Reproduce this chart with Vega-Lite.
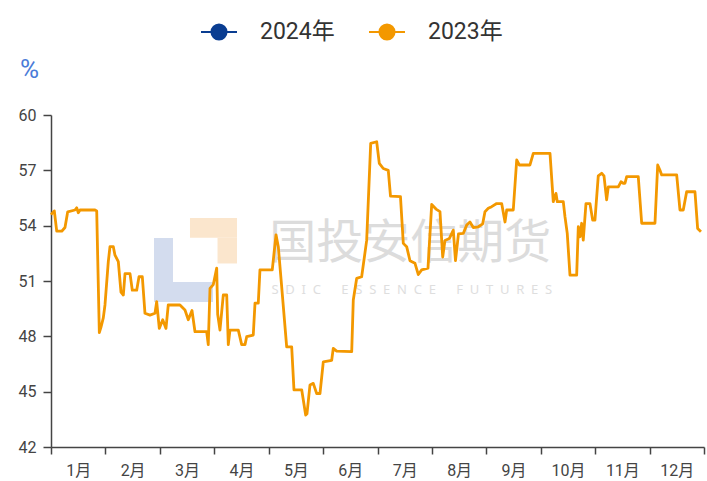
{
  "$schema": "https://vega.github.io/schema/vega-lite/v6.json",
  "width": 653,
  "height": 332,
  "autosize": {"type": "none"},
  "padding": {"left": 51, "top": 115, "right": 3, "bottom": 34},
  "background": "white",
  "config": {
    "view": {"stroke": null},
    "font": "Roboto, Noto Sans CJK SC, sans-serif",
    "axis": {
      "labelFontSize": 16,
      "labelColor": "#444",
      "tickColor": "#444",
      "domainColor": "#444",
      "tickWidth": 1.5,
      "domainWidth": 1.5,
      "grid": false
    }
  },
  "datasets": {
    "line": [
      {"series":"2023年","t":0,"v":54.6},
      {"series":"2023年","t":0.061,"v":54.8},
      {"series":"2023年","t":0.105,"v":53.7},
      {"series":"2023年","t":0.197,"v":53.7},
      {"series":"2023年","t":0.257,"v":53.9},
      {"series":"2023年","t":0.307,"v":54.75},
      {"series":"2023年","t":0.441,"v":54.85},
      {"series":"2023年","t":0.472,"v":54.97},
      {"series":"2023年","t":0.502,"v":54.7},
      {"series":"2023年","t":0.533,"v":54.85},
      {"series":"2023年","t":0.809,"v":54.85},
      {"series":"2023年","t":0.840,"v":54.8},
      {"series":"2023年","t":0.888,"v":48.2},
      {"series":"2023年","t":0.919,"v":48.5},
      {"series":"2023年","t":0.961,"v":49.0},
      {"series":"2023年","t":0.992,"v":49.7},
      {"series":"2023年","t":1.053,"v":52.05},
      {"series":"2023年","t":1.084,"v":52.86},
      {"series":"2023年","t":1.145,"v":52.86},
      {"series":"2023年","t":1.176,"v":52.4},
      {"series":"2023年","t":1.237,"v":52.05},
      {"series":"2023年","t":1.286,"v":50.4},
      {"series":"2023年","t":1.329,"v":50.24},
      {"series":"2023年","t":1.360,"v":51.4},
      {"series":"2023年","t":1.452,"v":51.4},
      {"series":"2023年","t":1.494,"v":50.5},
      {"series":"2023年","t":1.575,"v":50.5},
      {"series":"2023年","t":1.617,"v":51.23},
      {"series":"2023年","t":1.678,"v":51.23},
      {"series":"2023年","t":1.727,"v":49.25},
      {"series":"2023年","t":1.819,"v":49.15},
      {"series":"2023年","t":1.911,"v":49.25},
      {"series":"2023年","t":1.942,"v":49.88},
      {"series":"2023年","t":1.990,"v":48.43},
      {"series":"2023年","t":2.053,"v":48.9},
      {"series":"2023年","t":2.113,"v":48.43},
      {"series":"2023年","t":2.155,"v":49.7},
      {"series":"2023年","t":2.370,"v":49.7},
      {"series":"2023年","t":2.462,"v":49.43},
      {"series":"2023年","t":2.523,"v":48.9},
      {"series":"2023年","t":2.591,"v":49.4},
      {"series":"2023年","t":2.646,"v":48.25},
      {"series":"2023年","t":2.861,"v":48.25},
      {"series":"2023年","t":2.890,"v":47.55},
      {"series":"2023年","t":2.922,"v":50.6},
      {"series":"2023年","t":2.982,"v":50.8},
      {"series":"2023年","t":3.045,"v":51.7},
      {"series":"2023年","t":3.063,"v":49.2},
      {"series":"2023年","t":3.105,"v":48.34},
      {"series":"2023年","t":3.166,"v":50.24},
      {"series":"2023年","t":3.229,"v":50.24},
      {"series":"2023年","t":3.258,"v":47.55},
      {"series":"2023年","t":3.289,"v":48.34},
      {"series":"2023年","t":3.442,"v":48.34},
      {"series":"2023年","t":3.504,"v":47.55},
      {"series":"2023年","t":3.565,"v":47.55},
      {"series":"2023年","t":3.596,"v":47.98},
      {"series":"2023年","t":3.717,"v":48.07},
      {"series":"2023年","t":3.749,"v":49.8},
      {"series":"2023年","t":3.809,"v":49.8},
      {"series":"2023年","t":3.840,"v":51.6},
      {"series":"2023年","t":4.066,"v":51.6},
      {"series":"2023年","t":4.135,"v":53.5},
      {"series":"2023年","t":4.177,"v":52.86},
      {"series":"2023年","t":4.239,"v":50.69},
      {"series":"2023年","t":4.331,"v":47.43},
      {"series":"2023年","t":4.423,"v":47.43},
      {"series":"2023年","t":4.465,"v":45.1},
      {"series":"2023年","t":4.607,"v":45.1},
      {"series":"2023年","t":4.680,"v":43.73},
      {"series":"2023年","t":4.704,"v":43.8},
      {"series":"2023年","t":4.759,"v":45.36},
      {"series":"2023年","t":4.820,"v":45.45},
      {"series":"2023年","t":4.882,"v":44.9},
      {"series":"2023年","t":4.943,"v":44.9},
      {"series":"2023年","t":5.004,"v":46.62},
      {"series":"2023年","t":5.158,"v":46.7},
      {"series":"2023年","t":5.187,"v":47.35},
      {"series":"2023年","t":5.250,"v":47.2},
      {"series":"2023年","t":5.526,"v":47.17},
      {"series":"2023年","t":5.555,"v":49.97},
      {"series":"2023年","t":5.617,"v":51.14},
      {"series":"2023年","t":5.709,"v":51.23},
      {"series":"2023年","t":5.801,"v":53.2},
      {"series":"2023年","t":5.875,"v":58.46},
      {"series":"2023年","t":5.985,"v":58.55},
      {"series":"2023年","t":6.033,"v":57.38},
      {"series":"2023年","t":6.106,"v":57.1},
      {"series":"2023年","t":6.198,"v":57.0},
      {"series":"2023年","t":6.239,"v":55.6},
      {"series":"2023年","t":6.422,"v":55.57},
      {"series":"2023年","t":6.474,"v":53.04},
      {"series":"2023年","t":6.536,"v":52.86},
      {"series":"2023年","t":6.597,"v":52.1},
      {"series":"2023年","t":6.689,"v":51.96},
      {"series":"2023年","t":6.750,"v":51.35},
      {"series":"2023年","t":6.812,"v":51.6},
      {"series":"2023年","t":6.928,"v":51.7},
      {"series":"2023年","t":6.996,"v":55.15},
      {"series":"2023年","t":7.075,"v":54.9},
      {"series":"2023年","t":7.148,"v":54.76},
      {"series":"2023年","t":7.198,"v":52.3},
      {"series":"2023年","t":7.240,"v":53.2},
      {"series":"2023年","t":7.319,"v":53.3},
      {"series":"2023年","t":7.393,"v":53.76},
      {"series":"2023年","t":7.433,"v":52.1},
      {"series":"2023年","t":7.488,"v":53.55},
      {"series":"2023年","t":7.576,"v":53.58},
      {"series":"2023年","t":7.639,"v":54.03},
      {"series":"2023年","t":7.699,"v":54.2},
      {"series":"2023年","t":7.760,"v":53.9},
      {"series":"2023年","t":7.852,"v":53.94},
      {"series":"2023年","t":7.933,"v":54.1},
      {"series":"2023年","t":7.975,"v":54.76},
      {"series":"2023年","t":8.036,"v":54.94},
      {"series":"2023年","t":8.098,"v":55.03},
      {"series":"2023年","t":8.190,"v":55.2},
      {"series":"2023年","t":8.282,"v":55.2},
      {"series":"2023年","t":8.343,"v":54.2},
      {"series":"2023年","t":8.374,"v":54.85},
      {"series":"2023年","t":8.495,"v":54.85},
      {"series":"2023年","t":8.558,"v":57.56},
      {"series":"2023年","t":8.606,"v":57.29},
      {"series":"2023年","t":8.802,"v":57.29},
      {"series":"2023年","t":8.863,"v":57.92},
      {"series":"2023年","t":9.170,"v":57.92},
      {"series":"2023年","t":9.230,"v":55.3},
      {"series":"2023年","t":9.280,"v":55.75},
      {"series":"2023年","t":9.304,"v":55.3},
      {"series":"2023年","t":9.414,"v":55.3},
      {"series":"2023年","t":9.445,"v":54.49},
      {"series":"2023年","t":9.487,"v":53.58},
      {"series":"2023年","t":9.537,"v":51.32},
      {"series":"2023年","t":9.660,"v":51.32},
      {"series":"2023年","t":9.690,"v":53.94},
      {"series":"2023年","t":9.721,"v":53.4},
      {"series":"2023年","t":9.752,"v":54.13},
      {"series":"2023年","t":9.781,"v":53.22},
      {"series":"2023年","t":9.831,"v":55.2},
      {"series":"2023年","t":9.904,"v":55.2},
      {"series":"2023年","t":9.954,"v":54.3},
      {"series":"2023年","t":9.996,"v":54.3},
      {"series":"2023年","t":10.057,"v":56.7},
      {"series":"2023年","t":10.119,"v":56.84},
      {"series":"2023年","t":10.162,"v":56.7},
      {"series":"2023年","t":10.211,"v":55.4},
      {"series":"2023年","t":10.241,"v":56.1},
      {"series":"2023年","t":10.425,"v":56.1},
      {"series":"2023年","t":10.474,"v":56.38},
      {"series":"2023年","t":10.516,"v":56.3},
      {"series":"2023年","t":10.548,"v":56.3},
      {"series":"2023年","t":10.579,"v":56.66},
      {"series":"2023年","t":10.792,"v":56.66},
      {"series":"2023年","t":10.855,"v":54.13},
      {"series":"2023年","t":11.099,"v":54.13},
      {"series":"2023年","t":11.149,"v":57.29},
      {"series":"2023年","t":11.191,"v":57.0},
      {"series":"2023年","t":11.222,"v":56.75},
      {"series":"2023年","t":11.498,"v":56.75},
      {"series":"2023年","t":11.558,"v":54.85},
      {"series":"2023年","t":11.619,"v":54.85},
      {"series":"2023年","t":11.681,"v":55.84},
      {"series":"2023年","t":11.834,"v":55.84},
      {"series":"2023年","t":11.883,"v":53.85},
      {"series":"2023年","t":11.944,"v":53.67}
    ],
    "watermark": [
      {"label":"国投安信期货","t":6.6,"v":53.0,"kind":"cn"},
      {"label":"S\u00a0\u00a0D\u00a0\u00a0I\u00a0\u00a0C\u00a0\u00a0\u00a0\u00a0\u00a0\u00a0E\u00a0\u00a0S\u00a0\u00a0S\u00a0\u00a0E\u00a0\u00a0N\u00a0\u00a0C\u00a0\u00a0E\u00a0\u00a0\u00a0\u00a0\u00a0\u00a0F\u00a0\u00a0U\u00a0\u00a0T\u00a0\u00a0U\u00a0\u00a0R\u00a0\u00a0E\u00a0\u00a0S","t":6.63,"v":50.5,"kind":"en"}
    ],
    "logo": [
      {"part":"blue","t":1.893,"t2":2.242,"v":53.33,"v2":49.86},
      {"part":"blue","t":2.242,"t2":2.977,"v":50.94,"v2":49.86},
      {"part":"orange","t":2.554,"t2":3.418,"v":54.41,"v2":53.35},
      {"part":"orange","t":3.06,"t2":3.418,"v":53.35,"v2":51.95}
    ]
  },
  "encoding": {
    "x": {
      "field": "t", "type": "quantitative",
      "scale": {"domain": [0, 12], "nice": false, "zero": false},
      "axis": {
        "title": null,
        "values": [0,0.5,1,1.5,2,2.5,3,3.5,4,4.5,5,5.5,6,6.5,7,7.5,8,8.5,9,9.5,10,10.5,11,11.5,12],
        "labelExpr": "datum.value % 1 > 0.25 ? (floor(datum.value) + 1) + '月' : ''",
        "tickOpacity": {"condition": {"test": "datum.value % 1 > 0.25", "value": 0}, "value": 1},
        "tickSize": 7,
        "labelPadding": 8,
        "labelOverlap": false,
        "labelFlush": false,
        "labelBound": false
      }
    },
    "y": {
      "field": "v", "type": "quantitative",
      "scale": {"domain": [42, 60], "nice": false, "zero": false},
      "axis": {
        "values": [42,45,48,51,54,57,60],
        "title": "%",
        "titleAngle": 0,
        "titleX": -22,
        "titleY": -46,
        "titleAlign": "center",
        "titleBaseline": "middle",
        "titleColor": "#4a7bd8",
        "titleFontSize": 26,
        "titleFontWeight": "normal",
        "tickSize": 8,
        "labelPadding": 7
      }
    }
  },
  "layer": [
    {
      "data": {"name": "logo"},
      "mark": {"type": "rect"},
      "encoding": {
        "x2": {"field": "t2"},
        "y2": {"field": "v2"},
        "fill": {
          "field": "part", "type": "nominal",
          "scale": {"domain": ["blue", "orange"], "range": ["#d3dcee", "#fbe6cd"]},
          "legend": null
        }
      }
    },
    {
      "data": {"name": "watermark"},
      "transform": [{"filter": "datum.kind == 'cn'"}],
      "mark": {"type": "text", "fontSize": 47, "color": "#dcdcdc", "font": "Noto Sans CJK SC", "align": "center", "baseline": "middle"},
      "encoding": {
        "text": {"field": "label"}
      }
    },
    {
      "data": {"name": "watermark"},
      "transform": [{"filter": "datum.kind == 'en'"}],
      "mark": {"type": "text", "fontSize": 13, "color": "#dedede", "font": "Noto Sans", "align": "center", "baseline": "middle"},
      "encoding": {
        "text": {"field": "label"}
      }
    },
    {
      "data": {"name": "line"},
      "mark": {"type": "line", "strokeWidth": 2.8, "interpolate": "linear", "strokeJoin": "round"},
      "encoding": {
        "color": {
          "field": "series", "type": "nominal",
          "scale": {"domain": ["2024年", "2023年"], "range": ["#0a3d91", "#f39800"]},
          "legend": {
            "title": null,
            "orient": "none",
            "direction": "horizontal",
            "legendX": 149,
            "legendY": -102,
            "symbolType": "M-1,0L-0.42,0M0.42,0L1,0M-0.42,0A0.42,0.42,0,1,1,0.42,0A0.42,0.42,0,1,1,-0.42,0Z",
            "symbolSize": 1296,
            "symbolStrokeWidth": 2,
            "labelFontSize": 23,
            "labelColor": "#333",
            "columnPadding": 30,
            "labelOffset": 22,
            "encode": {
              "symbols": {"update": {"fill": {"scale": "color", "field": "value"}, "opacity": {"value": 1}}}
            }
          }
        }
      }
    }
  ]
}
